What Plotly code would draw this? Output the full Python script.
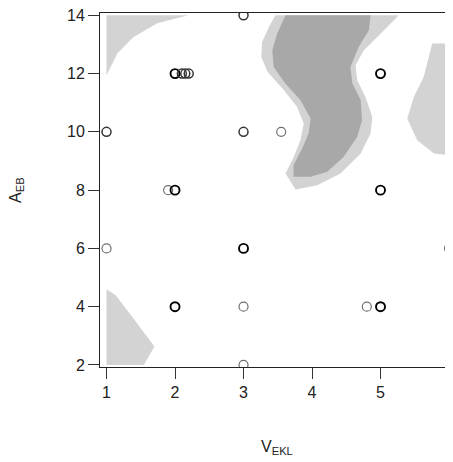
import plotly.graph_objects as go

# ---- data ----
x_ticks = [1, 2, 3, 4, 5, 6]
y_ticks = [2, 4, 6, 8, 10, 12, 14]

# observed points (x, y) and multiplicity (overplotting -> darker)
pts_x = [1, 1, 2, 2.1, 2.15, 2.2, 1.9, 2, 2, 3, 3, 3, 3, 3, 3.55, 5, 5, 5, 4.8, 6]
pts_y = [10, 6, 12, 12, 12, 12, 8, 8, 4, 14, 10, 6, 4, 2, 10, 12, 8, 4, 4, 6]
pts_n = [2, 1, 3, 2, 2, 2, 1, 3, 3, 2, 2, 3, 1, 1, 1, 3, 3, 3, 1, 1]

# light-grey region boundaries
light_tl_x = [1.0, 2.2, 1.74, 1.39, 1.16, 1.0]
light_tl_y = [14.0, 14.0, 13.73, 13.25, 12.7, 11.94]

light_bl_x = [1.0, 1.13, 1.30, 1.50, 1.70, 1.545, 1.0]
light_bl_y = [4.60, 4.40, 3.89, 3.26, 2.63, 2.0, 2.0]

light_r_x = [5.755, 6.0, 6.0, 5.78, 5.535, 5.39, 5.486, 5.63, 5.705]
light_r_y = [13.03, 13.03, 9.20, 9.26, 9.71, 10.46, 11.20, 11.88, 12.57]

light_c_x = [3.467, 5.267, 5.0, 4.757, 4.635, 4.66, 4.78, 4.88, 4.854, 4.71, 4.416,
             4.076, 3.76, 3.613, 3.734, 3.83, 3.88, 3.78, 3.59, 3.35, 3.26, 3.27, 3.37]
light_c_y = [14.0, 14.0, 13.37, 12.80, 12.29, 11.77, 11.20, 10.51, 9.94, 9.26, 8.57,
             8.17, 8.02, 8.57, 9.14, 9.71, 10.29, 10.86, 11.43, 12.06, 12.57, 13.08, 13.6]

# dark-grey region boundary
dark_x = [3.613, 4.854, 4.83, 4.68, 4.56, 4.59, 4.71, 4.73, 4.66, 4.46, 4.22,
          3.98, 3.73, 3.73, 3.857, 3.95, 3.98, 3.83, 3.61, 3.44, 3.42, 3.49]
dark_y = [14.0, 14.0, 13.49, 12.91, 12.23, 11.66, 11.09, 10.40, 9.83, 9.14, 8.63,
          8.46, 8.46, 8.86, 9.43, 9.94, 10.46, 11.09, 11.66, 12.23, 12.80, 13.37]

LIGHT = "#d3d3d3"
DARK = "#a8a8a8"
FONT = "Liberation Sans, Arial, sans-serif"

fig = go.Figure()

def region(xs, ys, color):
    fig.add_trace(go.Scatter(x=xs + [xs[0]], y=ys + [ys[0]], mode="lines",
                             fill="toself", fillcolor=color,
                             line=dict(width=0, color=color),
                             hoverinfo="skip", showlegend=False))

region(light_tl_x, light_tl_y, LIGHT)
region(light_bl_x, light_bl_y, LIGHT)
region(light_r_x, light_r_y, LIGHT)
region(light_c_x, light_c_y, LIGHT)
region(dark_x, dark_y, DARK)

col_map = {1: "#6e6e6e", 2: "#333333", 3: "#000000"}
wid_map = {1: 1.2, 2: 1.5, 3: 1.9}
fig.add_trace(go.Scatter(
    x=pts_x, y=pts_y, mode="markers",
    marker=dict(symbol="circle-open", size=9,
                color=[col_map[n] for n in pts_n],
                line=dict(width=[wid_map[n] for n in pts_n],
                          color=[col_map[n] for n in pts_n])),
    hoverinfo="skip", showlegend=False))

fig.update_layout(
    width=445, height=454,
    margin=dict(l=92, r=0, t=5, b=95),
    paper_bgcolor="white", plot_bgcolor="white",
    font=dict(family=FONT, size=16, color="#222222"),
    showlegend=False,
    xaxis=dict(range=[0.905, 6.058], tickvals=x_ticks, ticks="outside", ticklen=11,
               tickwidth=1, tickcolor="#333333", showline=True, linecolor="#222222",
               linewidth=1, mirror=True, showgrid=False, zeroline=False,
               ticklabeloverflow="allow", tickfont=dict(size=16)),
    yaxis=dict(range=[1.93, 14.08], tickvals=y_ticks, ticks="outside", ticklen=11,
               tickwidth=1, tickcolor="#333333", showline=True, linecolor="#222222",
               linewidth=1, mirror=False, showgrid=False, zeroline=False,
               ticklabeloverflow="allow", tickfont=dict(size=16)),
    annotations=[
        dict(text="V<sub>EKL</sub>", xref="paper", yref="paper", x=0.5, y=0,
             xanchor="center", yanchor="middle", yshift=-80, showarrow=False,
             font=dict(size=16, family=FONT, color="#222222")),
        dict(text="A<sub>EB</sub>", xref="paper", yref="paper", x=0, y=0.5,
             xanchor="center", yanchor="middle", xshift=-84, textangle=-90,
             showarrow=False, font=dict(size=16, family=FONT, color="#222222")),
    ],
)

fig.write_html("out.html")
